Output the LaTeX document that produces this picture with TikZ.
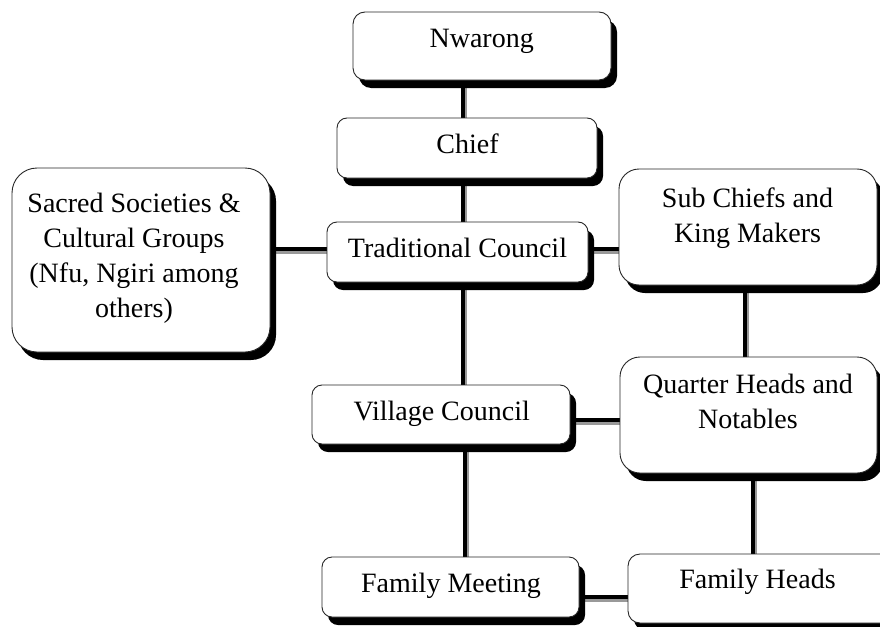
\documentclass[tikz,border=0pt]{standalone}
\usepackage{fontspec}
\setmainfont{Liberation Serif}
\usetikzlibrary{shadows}
\pgfdeclarelayer{bg}
\pgfsetlayers{bg,main}
\begin{document}
\begin{tikzpicture}[x=1pt,y=-1pt,
  box/.style={draw=black!85, line width=0.9pt, fill=white, rounded corners=#1, inner sep=0pt,
    drop shadow={fill=black, opacity=1, shadow xshift=6pt, shadow yshift=-8pt}},
  box/.default=10pt,
  txt/.style={font=\fontsize{28}{35}\selectfont, align=center, anchor=base, inner sep=0pt, text=black},
  conn/.style={line width=4pt, draw=black,
    preaction={draw=black!40, line width=3pt, transform canvas={xshift=2pt,yshift=-3pt}}}]
\useasboundingbox (0,0) rectangle (880,626);
\clip (0,0) rectangle (880,626);

% boxes
\node[box=12pt, minimum width=258pt, minimum height=68pt] (nw) at (482,46) {};
\node[box=10pt, minimum width=260pt, minimum height=60pt] (ch) at (467,148) {};
\node[box=10pt, minimum width=261pt, minimum height=60pt] (tc) at (457.5,252) {};
\node[box=25pt, minimum width=258pt, minimum height=184pt] (ss) at (141,260) {};
\node[box=20pt, minimum width=258pt, minimum height=116pt] (sc) at (748,227) {};
\node[box=20pt, minimum width=257pt, minimum height=116pt] (qh) at (748.5,415) {};
\node[box=10pt, minimum width=258pt, minimum height=59pt] (vc) at (441,414.5) {};
\node[box=10pt, minimum width=257pt, minimum height=60pt] (fm) at (450.5,587) {};
\node[box=12pt, minimum width=267pt, minimum height=69pt] (fh) at (761.5,588.5) {};

% texts (base anchor = baseline of the last line)
\node[txt] (nwt) at (481.7,48) {Nwarong};
\node[txt] (cht) at (467.5,153) {Chief};
\node[txt] (tct) at (457.5,257) {Traditional Council};
\node[txt] (sst) at (134,317) {Sacred Societies \&\\Cultural Groups\\(Nfu, Ngiri among\\others)};
\node[txt] (sct) at (747.5,242) {Sub Chiefs and\\King Makers};
\node[txt] (qht) at (748,428) {Quarter Heads and\\Notables};
\node[txt] (vct) at (441.7,420) {Village Council};
\node[txt] (fmt) at (451,592) {Family Meeting};
\node[txt] (fht) at (757.5,588) {Family Heads};

% connector guides
\coordinate (xa) at (463,0);
\coordinate (xb) at (465,0);
\coordinate (xc) at (745,0);
\coordinate (xd) at (753,0);
\coordinate (ya) at (0,249);
\coordinate (yb) at (0,420);
\coordinate (yc) at (0,597);

\begin{pgfonlayer}{bg}
\draw[conn] (nw.south -| xa) -- (ch.north -| xa);
\draw[conn] (ch.south -| xa) -- (tc.north -| xa);
\draw[conn] (tc.south -| xa) -- (vc.north -| xa);
\draw[conn] (vc.south -| xb) -- (fm.north -| xb);
\draw[conn] (ss.east |- ya) -- (tc.west |- ya);
\draw[conn] (tc.east |- ya) -- (sc.west |- ya);
\draw[conn] (sc.south -| xc) -- (qh.north -| xc);
\draw[conn] (vc.east |- yb) -- (qh.west |- yb);
\draw[conn] (qh.south -| xd) -- (fh.north -| xd);
\draw[conn] (fm.east |- yc) -- (fh.west |- yc);
\end{pgfonlayer}
\end{tikzpicture}
\end{document}
